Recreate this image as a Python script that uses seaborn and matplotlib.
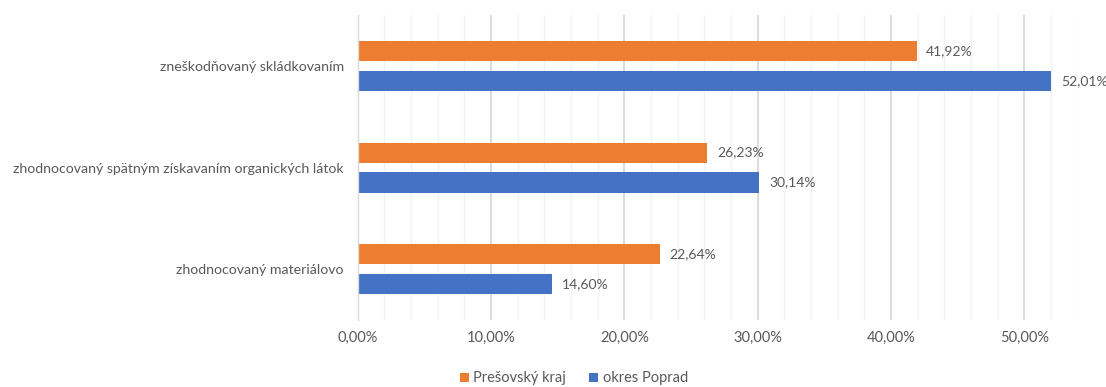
import matplotlib
matplotlib.use("Agg")
import matplotlib.pyplot as plt
from matplotlib.ticker import MultipleLocator, FuncFormatter
from matplotlib.patches import Patch
import seaborn as sns
import pandas as pd

# Waste handling shares by method
categories = [
    "zneškodňovaný skládkovaním",
    "zhodnocovaný spätným získavaním organických látok",
    "zhodnocovaný materiálovo",
]
series_names = ["Prešovský kraj", "okres Poprad"]
presov_kraj = [41.92, 26.23, 22.64]
okres_poprad = [52.01, 30.14, 14.60]

colors = {"Prešovský kraj": "#ED7D31", "okres Poprad": "#4472C4"}
text_color = "#595959"

df = pd.DataFrame({
    "kategória": categories * 2,
    "séria": [series_names[0]] * 3 + [series_names[1]] * 3,
    "podiel": presov_kraj + okres_poprad,
})

sns.set_theme(style="white")
plt.rcParams["font.family"] = ["Lato", "DejaVu Sans"]

fig = plt.figure(figsize=(11.06, 3.87), dpi=100)
ax = fig.add_axes([0.3234, 0.1731, 0.9743 - 0.3234, 0.9612 - 0.1731])

sns.barplot(
    data=df, y="kategória", x="podiel", hue="séria",
    order=categories, hue_order=series_names, palette=colors,
    orient="h", width=0.59, gap=0.332, legend=False, ax=ax,
    saturation=1, linewidth=0,
)

ax.set_xlim(0, 54)
ax.set_ylim(2.5, -0.5)

# gridlines
ax.xaxis.set_major_locator(MultipleLocator(10))
ax.xaxis.set_minor_locator(MultipleLocator(2))
ax.grid(which="major", axis="x", color="#D9D9D9", linewidth=1.3, zorder=0)
ax.grid(which="minor", axis="x", color="#F2F2F2", linewidth=1.0, zorder=0)
ax.set_axisbelow(True)

ax.xaxis.set_major_formatter(FuncFormatter(lambda v, p: f"{v:.2f}%".replace(".", ",")))
ax.tick_params(axis="x", which="both", length=0, pad=8, labelsize=10.5, labelcolor=text_color)

# category axis: labels at centers, ticks at boundaries
ax.set_yticks([0, 1, 2])
ax.set_yticklabels(categories)
ax.set_yticks([-0.5, 0.5, 1.5, 2.5], minor=True)
ax.tick_params(axis="y", which="major", length=0, pad=10, labelsize=10.2, labelcolor=text_color)
ax.tick_params(axis="y", which="minor", length=5, width=1.0, color="#D9D9D9", direction="out")

for side in ["top", "right", "bottom"]:
    ax.spines[side].set_visible(False)
ax.spines["left"].set_color("#D9D9D9")
ax.spines["left"].set_linewidth(1.0)

ax.set_xlabel("")
ax.set_ylabel("")

# value labels
for container in ax.containers:
    ax.bar_label(
        container,
        labels=[f"{b.get_width():.2f}%".replace(".", ",") for b in container],
        padding=7, fontsize=10, color=text_color,
    )

handles = [Patch(facecolor=colors[s], edgecolor="none") for s in series_names]
fig.legend(
    handles, series_names, loc="center", bbox_to_anchor=(0.519, 0.022),
    ncol=2, frameon=False, fontsize=10.5, labelcolor=text_color,
    handlelength=0.6, handleheight=0.6, handletextpad=0.3, columnspacing=1.6,
)

fig.savefig("out.png", dpi=100, facecolor="white")
